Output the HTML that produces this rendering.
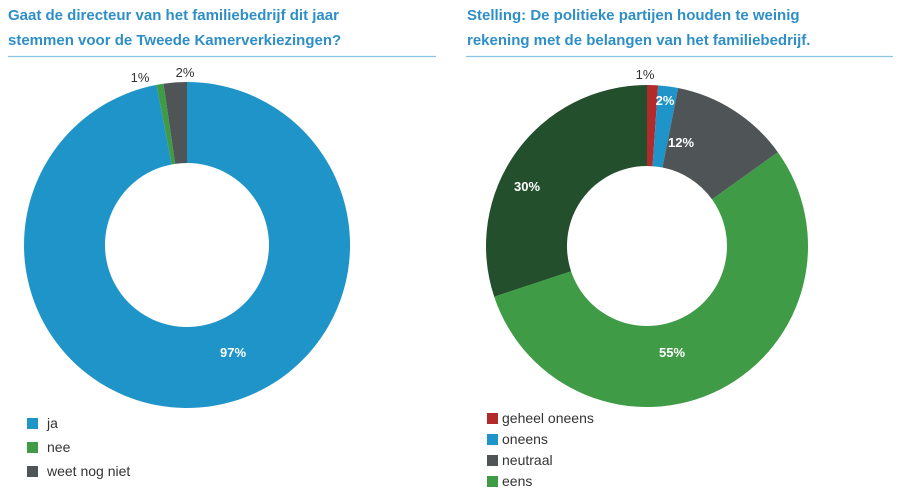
<!DOCTYPE html>
<html><head><meta charset="utf-8"><style>
body{margin:0;background:#fff;width:900px;height:496px;overflow:hidden;font-family:"Liberation Sans","DejaVu Sans",sans-serif}
svg{position:absolute;left:0;top:0}
</style></head><body>
<svg width="900" height="496" id="s">
<g font-family="Liberation Sans, DejaVu Sans, sans-serif" font-weight="bold" font-size="15" fill="#2e8fc6">
<text x="8" y="20">Gaat de directeur van het familiebedrijf dit jaar</text>
<text x="8" y="45">stemmen voor de Tweede Kamerverkiezingen?</text>
<text x="467" y="20">Stelling: De politieke partijen houden te weinig</text>
<text x="467" y="45">rekening met de belangen van het familiebedrijf.</text>
</g>
<line x1="8" y1="56.5" x2="436" y2="56.5" stroke="#8cc4e4" stroke-width="1.2"/>
<line x1="466" y1="56.5" x2="893" y2="56.5" stroke="#8cc4e4" stroke-width="1.2"/>
<g id="p"></g>
<g font-family="Liberation Sans, DejaVu Sans, sans-serif" font-size="13" text-anchor="middle">
<text x="140" y="82" fill="#333">1%</text>
<text x="185" y="77" fill="#333">2%</text>
<text x="233" y="357" fill="#fff" font-weight="bold">97%</text>
<text x="645" y="79" fill="#333">1%</text>
<text x="665" y="105" fill="#fff" font-weight="bold">2%</text>
<text x="681" y="147" fill="#fff" font-weight="bold">12%</text>
<text x="527" y="191" fill="#fff" font-weight="bold">30%</text>
<text x="672" y="357" fill="#fff" font-weight="bold">55%</text>
</g>
<g font-family="Liberation Sans, DejaVu Sans, sans-serif" font-size="14" fill="#333">
<rect x="27" y="418" width="11" height="11" fill="#1e94c8"/><text x="47" y="428">ja</text>
<rect x="27" y="442" width="11" height="11" fill="#3f9b45"/><text x="47" y="452">nee</text>
<rect x="27" y="466" width="11" height="11" fill="#4f5457"/><text x="47" y="476">weet nog niet</text>
<rect x="487" y="413" width="11" height="11" fill="#b22a2a"/><text x="502" y="423">geheel oneens</text>
<rect x="487" y="434" width="11" height="11" fill="#1e94c8"/><text x="502" y="444">oneens</text>
<rect x="487" y="455" width="11" height="11" fill="#4f5457"/><text x="502" y="465">neutraal</text>
<rect x="487" y="476" width="11" height="11" fill="#3f9b45"/><text x="502" y="486">eens</text>
</g>
</svg>
<script>
function donut(cx,cy,R,r,parts){
 var g=document.getElementById('p'),a=0,h='';
 parts.forEach(function(p){
  var a0=a*2*Math.PI,a1=(a+p[0])*2*Math.PI;a+=p[0];
  function pt(rr,t){return (cx+rr*Math.sin(t)).toFixed(2)+','+(cy-rr*Math.cos(t)).toFixed(2);}
  var l=p[0]>0.5?1:0;
  h+='<path fill="'+p[1]+'" d="M'+pt(R,a0)+'A'+R+','+R+' 0 '+l+' 1 '+pt(R,a1)+'L'+pt(r,a1)+'A'+r+','+r+' 0 '+l+' 0 '+pt(r,a0)+'Z"/>';
 });
 g.innerHTML+=h;
}
donut(187,245,163,82,[[0.97,'#1e94c8'],[0.007,'#3f9b45'],[0.023,'#4f5457']]);
donut(647,246,161,80,[[0.011,'#b22a2a'],[0.02,'#1e94c8'],[0.12,'#4f5457'],[0.548,'#3f9b45'],[0.301,'#234f2c']]);
</script>
</body></html>
